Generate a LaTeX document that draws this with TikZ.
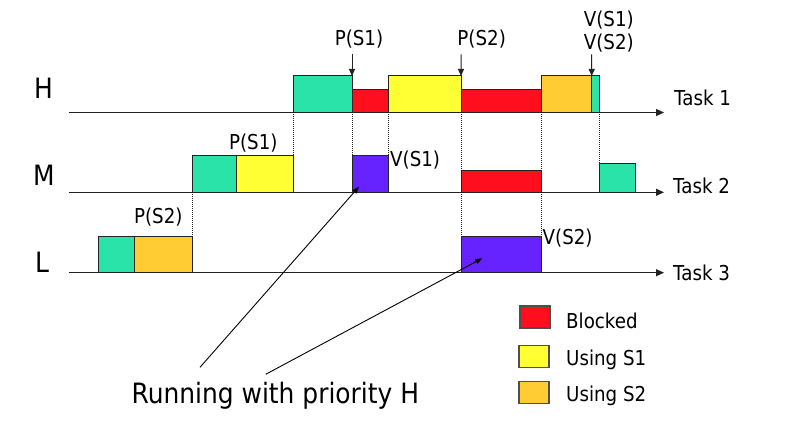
\documentclass[tikz,border=0pt]{standalone}
\usepackage{fontspec}
\setmainfont{DejaVu Sans}[FakeStretch=0.89]
\usetikzlibrary{arrows.meta}
\definecolor{cgreen}{RGB}{42,227,168}
\definecolor{cred}{RGB}{255,14,30}
\definecolor{cyellow}{RGB}{255,255,51}
\definecolor{corange}{RGB}{255,204,51}
\definecolor{cpurple}{RGB}{102,34,255}
\definecolor{cline}{RGB}{35,35,35}
\newcommand\taskbox[6]{\node[tb, fill=#2, minimum width={(#4-#3)*1pt}, minimum height={(#6-#5)*1pt}, anchor=south west] (#1) at (#3,#6) {};}
\tikzset{
  tb/.style={draw=cline, line width=1pt, inner sep=0pt, outer sep=0pt},
  legbox/.style={draw=cline!80, line width=1.1pt, inner sep=0pt, outer sep=0pt, minimum width=30pt, minimum height=22pt, anchor=north west},
  axis/.style={line width=1.2pt, draw=cline, -{Triangle[length=8pt,width=7pt]}},
  guide/.style={line width=0.7pt, draw=cline, dash pattern=on 1pt off 1pt},
  evarrow/.style={line width=1pt, draw=cline, -{Triangle[length=7pt,width=6pt]}},
  ptr/.style={line width=0.9pt, draw=black, -{Triangle[length=7pt,width=5pt]}},
  big/.style={font=\fontsize{28}{32}\selectfont, inner sep=0pt, anchor=base west},
  small/.style={font=\fontsize{20.5}{24}\selectfont, inner sep=0pt, anchor=base},
  task/.style={font=\fontsize{20.5}{24}\selectfont, inner sep=0pt, anchor=base west},
}
\begin{document}
\begin{tikzpicture}[x=1pt,y=-1pt]
\fill[white] (0,0) rectangle (792,430);
\useasboundingbox (0,0) rectangle (792,430);

% axes
\coordinate (hs) at (69,112.5); \coordinate (he) at (664,112.5);
\coordinate (ms) at (69,192.3); \coordinate (me) at (664,192.3);
\coordinate (ls) at (69,272.7); \coordinate (le) at (664,272.7);

% dotted guides
\coordinate (g1a) at (293.5,112.5); \coordinate (g1b) at (293.5,155.7);
\coordinate (g2a) at (352,112.5);   \coordinate (g2b) at (352,155.7);
\coordinate (g3a) at (388.3,112.5); \coordinate (g3b) at (388.3,155.7);
\coordinate (g4a) at (461,112.5);   \coordinate (g4b) at (461,236.7);
\coordinate (g5a) at (541,112.5);   \coordinate (g5b) at (541,236.7);
\coordinate (g6a) at (599.3,112.5); \coordinate (g6b) at (599.3,163.3);
\coordinate (g7a) at (192.7,192.3); \coordinate (g7b) at (192.7,236.7);
\foreach \i in {1,...,7} { \draw[guide] (g\i a) -- (g\i b); }

\draw[axis] (hs) -- (he);
\draw[axis] (ms) -- (me);
\draw[axis] (ls) -- (le);

% H row
\taskbox{h1}{cgreen}{293.5}{352}{76}{112.5}
\taskbox{h2}{cred}{352}{388.3}{90}{112.5}
\taskbox{h3}{cyellow}{388.3}{461}{76}{112.5}
\taskbox{h4}{cred}{461}{541}{90}{112.5}
\taskbox{h5}{corange}{541}{591.7}{76}{112.5}
\taskbox{h6}{cgreen}{591.7}{599.3}{76}{112.5}
% M row
\taskbox{m1}{cgreen}{192.7}{236.3}{155.7}{192.3}
\taskbox{m2}{cyellow}{236.3}{293.5}{155.7}{192.3}
\taskbox{m3}{cpurple}{352}{388.3}{155.7}{192.3}
\taskbox{m4}{cred}{461}{541}{170.7}{192.3}
\taskbox{m5}{cgreen}{599.3}{635.7}{163.3}{192.3}
% L row
\taskbox{l1}{cgreen}{98}{134.3}{236.7}{272.7}
\taskbox{l2}{corange}{134.3}{192.7}{236.7}{272.7}
\taskbox{l3}{cpurple}{461}{541}{236.7}{272.7}

% row labels
\node[big] (lh) at (34,98.3) {H};
\node[big] (lm) at (33,186) {M};
\node[big] (ll) at (35,272.5) {L};
\node[task] (t1) at (674,106) {Task 1};
\node[task] (t2) at (673,193.3) {Task 2};
\node[task] (t3) at (673,280) {Task 3};

% event labels
\node[small] (ps1) at (359,46) {P(S1)};
\node[small] (ps2) at (481.7,46) {P(S2)};
\node[small] (vs1) at (608.8,26.5) {V(S1)};
\node[small] (vs2) at (608.8,50) {V(S2)};
\node[small] (mps1) at (253.3,150) {P(S1)};
\node[small, anchor=base west] (mvs1) at (390,166.5) {V(S1)};
\node[small] (lps2) at (158.3,224) {P(S2)};
\node[small, anchor=base west] (lvs2) at (542.5,245) {V(S2)};

% event arrows
\coordinate (a1) at (352,54.5);
\coordinate (a2) at (461,54.5);
\coordinate (a3) at (591.7,54.5);
\draw[evarrow] (a1) -- (h1.north east);
\draw[evarrow] (a2) -- (h3.north east);
\draw[evarrow] (a3) -- (h5.north east);

% running with priority H
\node[font=\fontsize{28}{32}\selectfont, inner sep=0pt, anchor=base] (run) at (275.3,403.3) {Running with priority H};
\coordinate (r1) at (200,367.3);
\coordinate (r2) at (265.7,374.3);
\coordinate (p1) at (359,186.7);
\coordinate (p2) at (482.3,258.3);
\draw[ptr] (r1) -- (p1);
\draw[ptr] (r2) -- (p2);

% legend
\node[legbox, fill=cred] (k1) at (520,306) {};
\node[legbox, fill=cyellow] (k2) at (519,345.7) {};
\node[legbox, fill=corange] (k3) at (519,381.7) {};
\node[task] (k1t) at (566,328.3) {Blocked};
\node[task] (k2t) at (566,365) {Using S1};
\node[task] (k3t) at (566,401) {Using S2};
\end{tikzpicture}
\end{document}
